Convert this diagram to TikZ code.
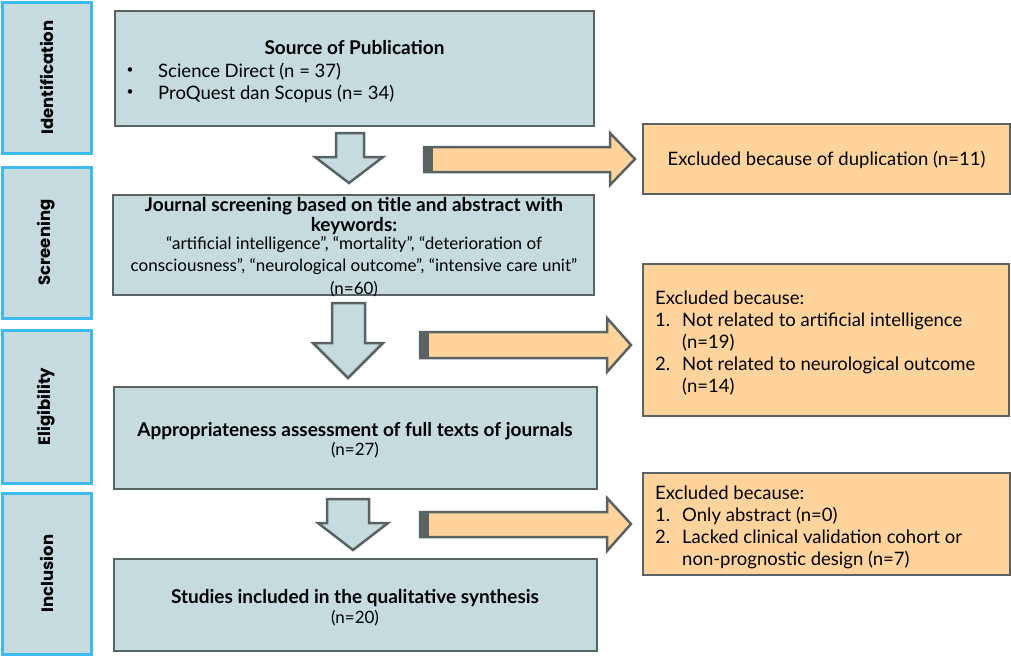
\documentclass[tikz,border=0pt]{standalone}
\usepackage{fontspec}
\setmainfont{Lato}
\newfontfamily\stagefont{Poppins}
\definecolor{boxfill}{HTML}{C5DBDD}
\definecolor{boxline}{HTML}{5A6363}
\definecolor{stageline}{HTML}{3DBBEF}
\definecolor{orfill}{HTML}{FFD49C}
\tikzset{
  stagebox/.style={draw=stageline, line width=3pt, fill=boxfill, inner sep=0pt},
  stagetxt/.style={font=\stagefont\bfseries\fontsize{16.5}{18}\selectfont, rotate=90},
  mainbox/.style={draw=boxline, line width=2.5pt, fill=boxfill, inner sep=0pt},
  exbox/.style={draw=boxline, line width=2.5pt, fill=orfill, inner sep=0pt},
  ttl/.style={font=\bfseries\fontsize{19}{20}\selectfont, inner sep=0pt, anchor=base},
  txt/.style={font=\fontsize{18.5}{22}\selectfont, inner sep=0pt, anchor=base west},
  bul/.style={font=\fontsize{12}{14}\selectfont, inner sep=0pt},
  kw/.style={font=\fontsize{17}{22}\selectfont, inner sep=0pt, anchor=base},
  nval/.style={font=\fontsize{17}{18}\selectfont, inner sep=0pt, anchor=base},
  downarrow/.style={draw=boxline, line width=2.5pt, fill=boxfill, line join=miter},
  rightarrow/.style={draw=boxline, line width=2.5pt, fill=orfill, line join=miter},
}
\begin{document}
\begin{tikzpicture}[x=1pt,y=-1pt]
\useasboundingbox (0,0) rectangle (1011,657);
% stage boxes
\node[stagebox, minimum width=89, minimum height=151] (idf) at (46.5,77.5) {};
\node[stagetxt] at (idf) {Identification};
\node[stagebox, minimum width=89, minimum height=151] (scr) at (46.5,242.5) {};
\node[stagetxt] at (scr) {Screening};
\node[stagebox, minimum width=89, minimum height=153] (eli) at (46.5,406.5) {};
\node[stagetxt] at (eli) {Eligibility};
\node[stagebox, minimum width=89, minimum height=161] (inc) at (46.5,573.5) {};
\node[stagetxt] at (inc) {Inclusion};

% main boxes
\node[mainbox, minimum width=479, minimum height=115] (src) at (354.5,68.5) {};
\node[ttl] at (354.5,54) {Source of Publication};
\node[bul] at (130,71) {•};
\node[txt] at (158,77) {Science Direct (n = 37)};
\node[bul] at (130,93) {•};
\node[txt] at (158,99) {ProQuest dan Scopus (n= 34)};

\node[mainbox, minimum width=481, minimum height=100] (jsc) at (353.5,245) {};
\node[ttl] at (354,211) {Journal screening based on title and abstract with};
\node[ttl] at (354,231.5) {keywords:};
\node[kw] at (354,249) {“artificial intelligence”, “mortality”, “deterioration of};
\node[kw] at (354,271) {consciousness”, “neurological outcome”, “intensive care unit”};
\node[nval] at (354,294) {(n=60)};

\node[mainbox, minimum width=483, minimum height=102] (app) at (355.5,438) {};
\node[ttl] at (355,436) {Appropriateness assessment of full texts of journals};
\node[nval] at (355,455) {(n=27)};

\node[mainbox, minimum width=483, minimum height=92] (stu) at (355.5,605) {};
\node[ttl] at (355,603) {Studies included in the qualitative synthesis};
\node[nval] at (355,623) {(n=20)};

% excluded boxes
\node[exbox, minimum width=367, minimum height=70] (ex1) at (826.5,159) {};
\node[font=\fontsize{18.5}{22}\selectfont, inner sep=0pt, anchor=base] at (826.5,165.5) {Excluded because of duplication (n=11)};

\node[exbox, minimum width=366, minimum height=152] (ex2) at (826,340) {};
\node[txt] at (655,304.5) {Excluded because:};
\node[txt] at (655,326.5) {1.};
\node[txt] at (682,326.5) {Not related to artificial intelligence};
\node[txt] at (682,348.5) {(n=19)};
\node[txt] at (655,370.5) {2.};
\node[txt] at (682,370.5) {Not related to neurological outcome};
\node[txt] at (682,392.5) {(n=14)};

\node[exbox, minimum width=367, minimum height=102] (ex3) at (826.5,524) {};
\node[txt] at (655,499.5) {Excluded because:};
\node[txt] at (655,521.5) {1.};
\node[txt] at (682,521.5) {Only abstract (n=0)};
\node[txt] at (655,543.5) {2.};
\node[txt] at (682,543.5) {Lacked clinical validation cohort or};
\node[txt] at (682,565.5) {non-prognostic design (n=7)};

% down block arrows
\draw[downarrow] (336,133) -- (364,133) -- (364,157) -- (383,157) -- (349,183) -- (315,157) -- (336,157) -- cycle;
\draw[downarrow] (332,303) -- (365,303) -- (365,343) -- (383,343) -- (348,378) -- (313,343) -- (332,343) -- cycle;
\draw[downarrow] (327,499) -- (369,499) -- (369,523) -- (388,523) -- (353,550) -- (318,523) -- (327,523) -- cycle;

% right block arrows
\draw[rightarrow] (424,147) -- (610,147) -- (610,133) -- (635,159) -- (610,185) -- (610,172) -- (424,172) -- cycle;
\fill[boxline] (424,147) rectangle (433,172);
\draw[rightarrow] (420,332) -- (607,332) -- (607,318) -- (631,345) -- (607,372) -- (607,358) -- (420,358) -- cycle;
\fill[boxline] (420,332) rectangle (429,358);
\draw[rightarrow] (420,512) -- (607,512) -- (607,498) -- (631,524) -- (607,551) -- (607,537) -- (420,537) -- cycle;
\fill[boxline] (420,512) rectangle (429,537);
\end{tikzpicture}
\end{document}
